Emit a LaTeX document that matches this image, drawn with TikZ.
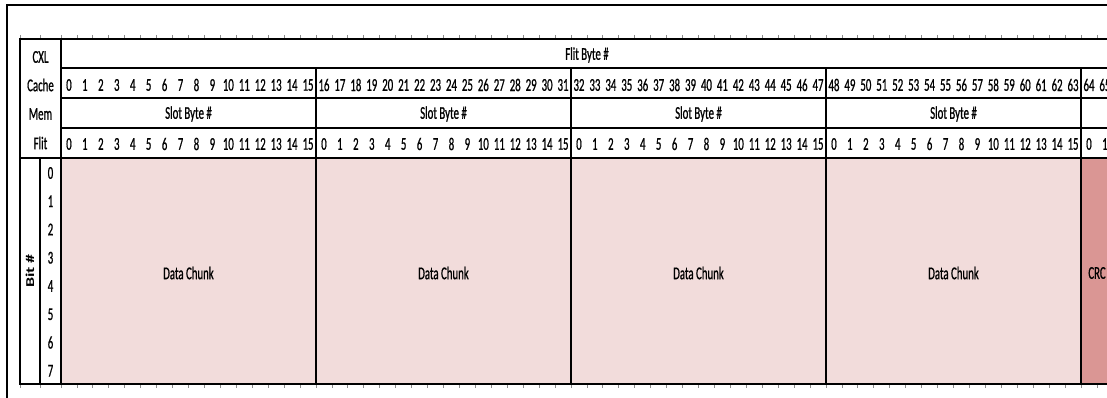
\documentclass[tikz,border=0pt]{standalone}
\usepackage{fontspec}
\setmainfont{Carlito}
\newfontfamily\cxlnarrow[FakeStretch=0.6,FakeBold=0.8]{Carlito}
\definecolor{cxlPink}{HTML}{F2DCDB}
\definecolor{cxlRose}{HTML}{DA9694}
\definecolor{cxlGray}{HTML}{8C8C8C}
\tikzset{
  cxl frame/.style={draw=black, line width=1.8pt},
  cxl rule/.style={draw=black, line width=1.6pt},
  cxl tick/.style={draw=cxlGray, line width=0.8pt},
  cxl label/.style={font=\cxlnarrow\fontsize{18}{18}\selectfont, text=black, inner sep=0pt},
  cxl bit label/.style={font=\bfseries\fontsize{12}{12}\selectfont, text=black, inner sep=0pt, rotate=90},
  cxl data/.style={fill=cxlPink},
  cxl crc/.style={fill=cxlRose},
}
\begin{document}
\begin{tikzpicture}[x=1pt,y=-1pt]
  \useasboundingbox (0,0) rectangle (1107,398);
  \clip (0,0) rectangle (1107,398);
  % payload fills
  \foreach \s in {0,...,3}{\fill[cxl data] (61+\s*255,158) rectangle (316+\s*255,384);}
  \fill[cxl crc] (1081,158) rectangle (1113,384);
  % sheet frame and grid ticks
  \draw[cxl frame] (1120,5) -- (7,5) -- (7,410);
  \foreach \i in {0,...,66}{\draw[cxl tick] (61+\i*15.9375,35) -- ++(0,4);\draw[cxl tick] (61+\i*15.9375,384) -- ++(0,4);}
  \foreach \x in {20,40}{\draw[cxl tick] (\x,35) -- ++(0,4);\draw[cxl tick] (\x,384) -- ++(0,4);}
  % table rules
  \draw[cxl rule] (1120,39) -- (20,39) -- (20,384) -- (1120,384);
  \foreach \y in {68,98,128}{\draw[cxl rule] (61,\y) -- (1120,\y);}
  \draw[cxl rule] (20,158) -- (1120,158);
  \draw[cxl rule] (61,39) -- (61,384);
  \draw[cxl rule] (40,158) -- (40,384);
  \foreach \x in {316,571,826,1081}{\draw[cxl rule] (\x,68) -- (\x,384);}
  % header labels
  \node[cxl label] (hdcxl) at (40.5,57) {CXL};
  \node[cxl label] (hdcache) at (40.5,85) {Cache};
  \node[cxl label] (hdmem) at (40.5,114) {Mem};
  \node[cxl label] (hdflit) at (40.5,143) {Flit};
  \node[cxl label] (flitbyte) at (587,55) {Flit Byte \#};
  \foreach \i [evaluate=\i as \k using {int(mod(\i,16))}] in {0,...,65}{
    \node[cxl label] (fb\i) at (61+\i*15.9375+7.97,85) {\i};
    \node[cxl label] (sb\i) at (61+\i*15.9375+7.97,144) {\k};}
  \foreach \s in {0,...,3}{
    \node[cxl label] (slot\s) at (188.5+\s*255,114) {Slot Byte \#};
    \node[cxl label] (chunk\s) at (188.5+\s*255,273) {Data Chunk};}
  \node[cxl label] (crc) at (1097,273) {CRC};
  % bit rows
  \node[cxl bit label] (bithd) at (30,271) {\scalebox{1.5}[1]{Bit \#}};
  \foreach \b in {0,...,7}{\node[cxl label] (bit\b) at (50.5,173+\b*28.25) {\b};}
\end{tikzpicture}
\end{document}
